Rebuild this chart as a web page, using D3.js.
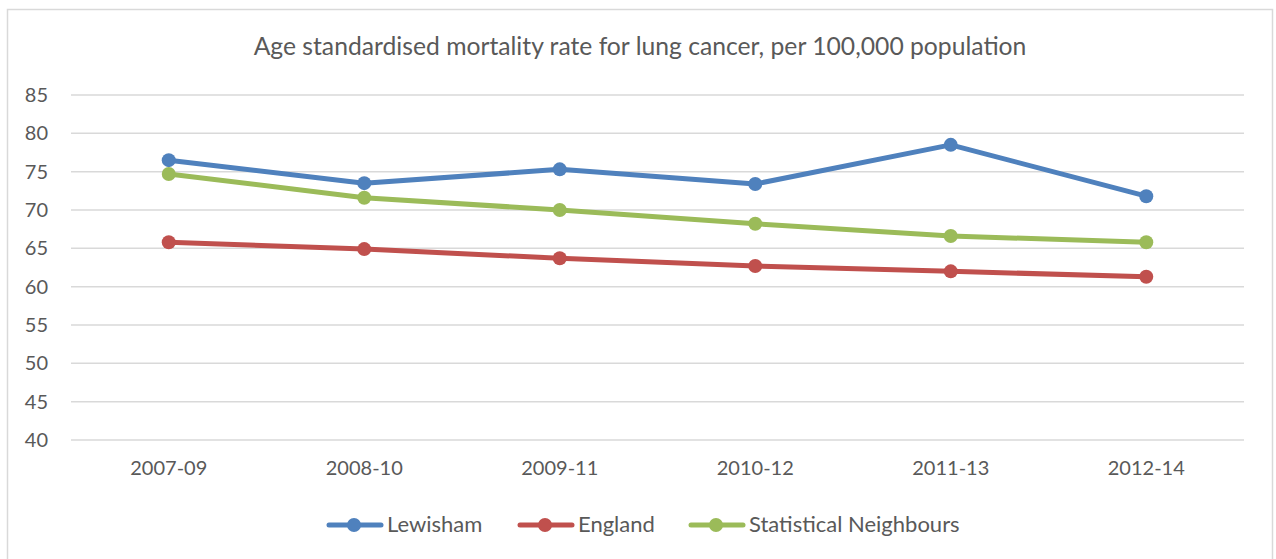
<!DOCTYPE html>
<html>
<head>
<meta charset="utf-8">
<script src="https://cdn.jsdelivr.net/npm/d3@7"></script>
<style>
  body { margin: 0; background: #fff; }
  svg { font-family: Lato, "Open Sans", sans-serif; }
</style>
</head>
<body>
<div id="chart"></div>
<script>
// chart data
const periods = ["2007-09", "2008-10", "2009-11", "2010-12", "2011-13", "2012-14"];
const lewisham = [76.5, 73.5, 75.3, 73.4, 78.5, 71.8];
const england = [65.8, 64.9, 63.7, 62.7, 62.0, 61.3];
const neighbours = [74.7, 71.6, 70.0, 68.2, 66.6, 65.8];
const yTicks = [40, 45, 50, 55, 60, 65, 70, 75, 80, 85];

const series = [
    { name: "Lewisham", values: lewisham, color: "#4f81bd" },
    { name: "England", values: england, color: "#c0504d" },
    { name: "Statistical Neighbours", values: neighbours, color: "#9bbb59" }
];

const W = 1276, H = 559;
const margin = { top: 95, right: 32, bottom: 119, left: 71 };
const width = W - margin.left - margin.right,
      height = H - margin.top - margin.bottom;

const svg = d3.select("#chart").append("svg")
    .attr("width", W)
    .attr("height", H);

// outer chart border
svg.append("rect")
    .attr("x", 7.5).attr("y", 9.5)
    .attr("width", 1265).attr("height", 560)
    .attr("fill", "none")
    .attr("stroke", "#d9d9d9")
    .attr("stroke-width", 1.5);

// title
svg.append("text")
    .attr("x", 640).attr("y", 55)
    .attr("text-anchor", "middle")
    .attr("fill", "#595959")
    .style("font-size", "24.7px")
    .text("Age standardised mortality rate for lung cancer, per 100,000 population");

const g = svg.append("g")
    .attr("transform", "translate(" + margin.left + "," + margin.top + ")");

const x = d3.scaleBand().domain(periods).range([0, width]);
const y = d3.scaleLinear().domain([40, 85]).range([height, 0]);

// gridlines
g.append("g")
    .selectAll("line")
    .data(yTicks)
    .join("line")
    .attr("x1", 0).attr("x2", width)
    .attr("y1", d => y(d)).attr("y2", d => y(d))
    .attr("stroke", "#d9d9d9")
    .attr("stroke-width", 1.5);

// y axis labels
const yAxis = d3.axisLeft(y).tickValues(yTicks).tickSize(0).tickPadding(23);
g.append("g").call(yAxis)
    .call(a => a.select(".domain").remove())
    .selectAll("text")
    .attr("fill", "#595959")
    .style("font-family", "Lato, sans-serif")
    .style("font-size", "20px");

// x axis labels
const xAxis = d3.axisBottom(x).tickSize(0).tickPadding(21);
g.append("g")
    .attr("transform", "translate(0," + height + ")")
    .call(xAxis)
    .call(a => a.select(".domain").remove())
    .selectAll("text")
    .attr("fill", "#595959")
    .style("font-family", "Lato, sans-serif")
    .style("font-size", "20px");

const line = d3.line()
    .x((d, i) => x(periods[i]) + x.bandwidth() / 2)
    .y(d => y(d));

series.forEach(s => {
    g.append("path")
        .datum(s.values)
        .attr("d", line)
        .attr("fill", "none")
        .attr("stroke", s.color)
        .attr("stroke-width", 5)
        .attr("stroke-linejoin", "round");

    g.selectAll(null)
        .data(s.values)
        .join("circle")
        .attr("cx", (d, i) => x(periods[i]) + x.bandwidth() / 2)
        .attr("cy", d => y(d))
        .attr("r", 7)
        .attr("fill", s.color);
});

// legend
const legendX = [327, 518, 689];
const legend = svg.append("g").attr("transform", "translate(0,525)");
series.forEach((s, i) => {
    let lg = legend.append("g").attr("transform", "translate(" + legendX[i] + ",0)");
    lg.append("line")
        .attr("x1", 2).attr("x2", 54)
        .attr("stroke", s.color)
        .attr("stroke-width", 5)
        .attr("stroke-linecap", "round");
    lg.append("circle")
        .attr("cx", 27).attr("r", 7)
        .attr("fill", s.color);
    lg.append("text")
        .attr("x", 60).attr("y", 7)
        .attr("fill", "#595959")
        .style("font-size", "22px")
        .text(s.name);
});
</script>
</body>
</html>
